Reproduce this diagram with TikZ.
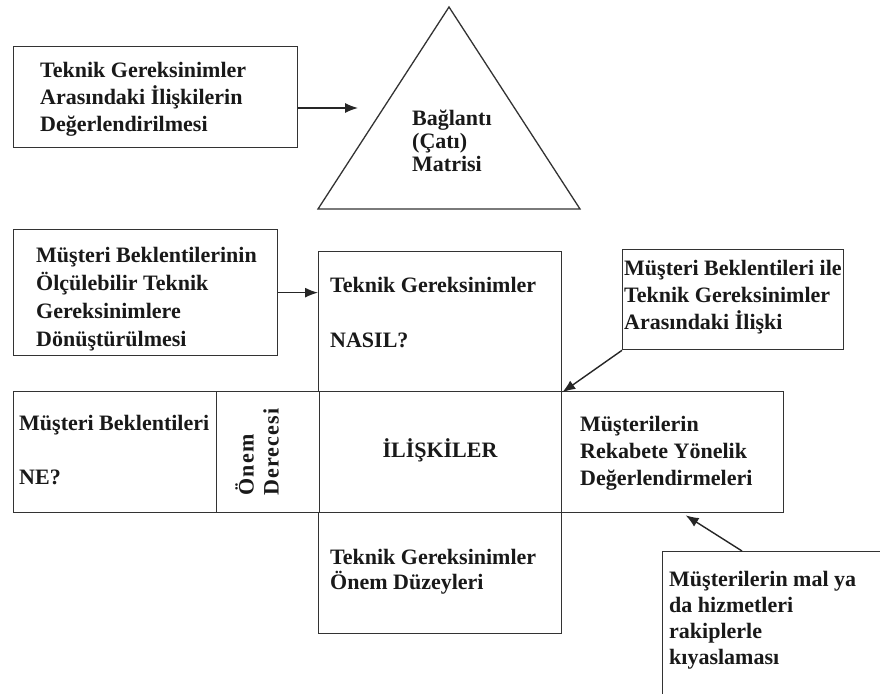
\documentclass[tikz,border=0pt]{standalone}
\usepackage{fontspec}
\setmainfont{Liberation Serif}
\usetikzlibrary{arrows.meta}
\begin{document}
\begin{tikzpicture}[x=1pt,y=-1pt,
  frame/.style={draw=black!80,line width=1.3pt,inner sep=0pt,anchor=north west},
  txt/.style={font=\bfseries\fontsize{22}{27}\selectfont,align=left,inner sep=0pt,anchor=west,text=black!90},
  link/.style={draw=black!85,line width=1.4pt,-{Latex[length=13pt,width=10pt]}}]
\useasboundingbox (0,0) rectangle (880,693);
\clip (0,0) rectangle (880,693);
\fill[white] (0,0) rectangle (880,693);

% roof of the house and its note
\node[frame,minimum width=284,minimum height=101] (roofnote) at (13,46) {};
\coordinate (roofL) at (318,209);
\coordinate (roofT) at (449,7);
\coordinate (roofR) at (580,209);
\draw[draw=black!80,line width=1.3pt,line join=miter] (roofL) -- (roofT) -- (roofR) -- cycle;
\coordinate (rooftip) at (358,108);
\draw[link] (roofnote.east |- rooftip) -- (rooftip);
\node[txt] (roofnotetxt) at (40,99) {Teknik Gereksinimler\\Arasındaki İlişkilerin\\Değerlendirilmesi};
\node[txt,font=\bfseries\fontsize{22}{23}\selectfont] (rooftxt) at (412,141) {Bağlantı\\(Çatı)\\Matrisi};

% house of quality grid
\node[frame,minimum width=243,minimum height=140] (hows) at (318,251) {};
\node[frame,minimum width=203,minimum height=121] (whats) at (13,391) {};
\node[frame,minimum width=103,minimum height=121] (imp) at (216,391) {};
\node[frame,minimum width=242,minimum height=121] (rel) at (319,391) {};
\node[frame,minimum width=222,minimum height=121] (comp) at (561,391) {};
\node[frame,minimum width=243,minimum height=121] (hwimp) at (318,512) {};

% notes around the grid
\node[frame,minimum width=264,minimum height=126] (hownote) at (13,229) {};
\node[frame,minimum width=221,minimum height=100] (relnote) at (622,249) {};
\node[frame,minimum width=260,minimum height=200] (compnote) at (662,551) {};

\draw[link] (hownote.east) -- (hownote.east -| hows.west);
\draw[link] (relnote.south west) -- (hows.south east);
\draw[link] ([xshift=80pt]compnote.north west) -- ([xshift=13pt,yshift=-2pt]comp.south);

% texts
\node[txt,font=\bfseries\fontsize{22}{28}\selectfont] (hownotetxt) at (36,299) {Müşteri Beklentilerinin\\Ölçülebilir Teknik\\Gereksinimlere\\Dönüştürülmesi};
\node[txt] (howstxt) at (330,285) {Teknik Gereksinimler};
\node[txt] (nasil) at (330,340) {NASIL?};
\node[txt] (relnotetxt) at (624,297) {Müşteri Beklentileri ile\\Teknik Gereksinimler\\Arasındaki İlişki};
\node[txt] (whatstxt) at (19,425) {Müşteri Beklentileri};
\node[txt] (ne) at (19,477) {NE?};
\node[txt,anchor=center,rotate=90,font=\bfseries\fontsize{22}{25}\selectfont\addfontfeatures{LetterSpace=5}] (imptxt) at (257,452) {Önem\\Derecesi};
\node[txt,anchor=center] (reltxt) at (440,450) {İLİŞKİLER};
\node[txt] (comptxt) at (580,453) {Müşterilerin\\Rekabete Yönelik\\Değerlendirmeleri};
\node[txt,font=\bfseries\fontsize{22}{25}\selectfont] (hwimptxt) at (330,572) {Teknik Gereksinimler\\Önem Düzeyleri};
\node[txt,font=\bfseries\fontsize{22}{26}\selectfont] (compnotetxt) at (669,620) {Müşterilerin mal ya\\da hizmetleri\\rakiplerle\\kıyaslaması};
\end{tikzpicture}
\end{document}
